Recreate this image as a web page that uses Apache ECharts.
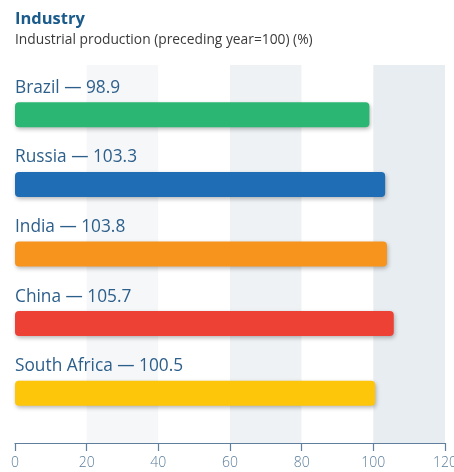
<!DOCTYPE html>
<html>
<head>
<meta charset="utf-8">
<script src="https://cdn.jsdelivr.net/npm/echarts@6/dist/echarts.min.js"></script>
<style>
  html, body { margin: 0; padding: 0; background: #ffffff; }
  #chart { width: 454px; height: 472px; }
</style>
</head>
<body>
<div id="chart"></div>
<script>
// Industrial production by country (preceding year = 100)
const countries = ['Brazil', 'Russia', 'India', 'China', 'South Africa'];
const production = [98.9, 103.3, 103.8, 105.7, 100.5];
const barColors = ['#2bb673', '#1f6db5', '#f7941d', '#ee4136', '#fec60a'];
const axisTicks = [0, 20, 40, 60, 80, 100, 120];

const FONT = '"Open Sans", "Noto Sans", sans-serif';
const axisMin = axisTicks[0];
const axisMax = axisTicks[axisTicks.length - 1];
const step = axisTicks[1] - axisTicks[0];

const chart = echarts.init(document.getElementById('chart'));
chart.setOption({
  animation: false,
  title: [
    {
      text: 'Industry',
      left: 10, top: 6,
      textStyle: { fontFamily: FONT, fontSize: 16.5, fontWeight: 'bold', color: '#1b5b8c' }
    },
    {
      text: 'Industrial production (preceding year=100) (%)',
      left: 10, top: 28,
      textStyle: { fontFamily: FONT, fontSize: 13.8, fontWeight: 'normal', color: '#3a3a3a' }
    }
  ],
  grid: [
    // background bands and the value axis
    { left: 15, right: 9, top: 65, bottom: 29, outerBoundsMode: 'none', containLabel: false },
    // bars
    { left: 15, right: 9, top: 80, bottom: 44, outerBoundsMode: 'none', containLabel: false }
  ],
  xAxis: [
    {
      gridIndex: 0, type: 'value', min: axisMin, max: axisMax, interval: step,
      axisLine: { show: true, lineStyle: { color: '#5f7f9c', width: 1.2 } },
      axisTick: { show: true, length: 8, lineStyle: { color: '#5f7f9c', width: 1.2 } },
      axisLabel: { fontFamily: FONT, fontSize: 14, fontWeight: 300, color: '#5a7c9b', margin: 13 },
      splitLine: { show: false },
      splitArea: {
        show: true,
        areaStyle: { color: ['#ffffff', '#f5f7f9', '#ffffff', '#eef2f5', '#ffffff', '#e8edf1'] }
      }
    },
    {
      gridIndex: 1, type: 'value', min: axisMin, max: axisMax,
      show: false
    }
  ],
  yAxis: [
    { gridIndex: 0, type: 'category', data: [''], show: false },
    {
      gridIndex: 1, type: 'category', data: countries, inverse: true,
      show: false
    }
  ],
  series: [
    {
      type: 'bar',
      xAxisIndex: 1, yAxisIndex: 1,
      barWidth: 25,
      data: production.map((v, i) => ({
        value: v,
        itemStyle: { color: barColors[i] }
      })),
      itemStyle: {
        borderRadius: 4,
        shadowColor: 'rgba(0,0,0,0.28)',
        shadowBlur: 4,
        shadowOffsetX: 1,
        shadowOffsetY: 2
      },
      label: {
        show: true,
        position: [0, -6],
        verticalAlign: 'bottom',
        align: 'left',
        formatter: '{b} — {c}',
        fontFamily: FONT,
        fontSize: 17.3,
        color: '#2d5f8b'
      }
    }
  ]
});
</script>
</body>
</html>
